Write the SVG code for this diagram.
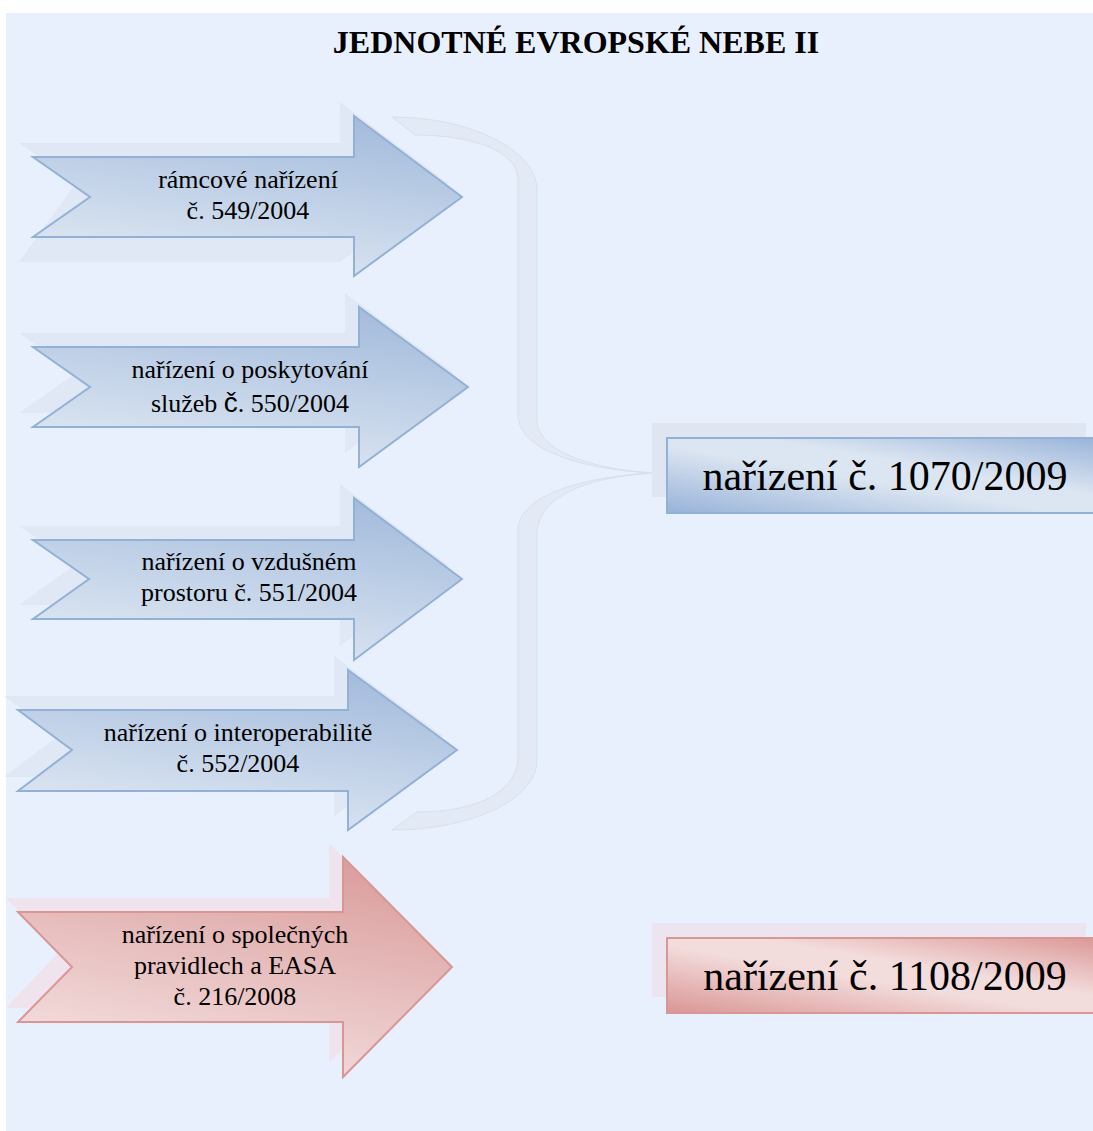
<svg xmlns="http://www.w3.org/2000/svg" width="1093" height="1131" viewBox="0 0 1093 1131">
<defs>
<linearGradient id="gBlue" x1="0.75" y1="0" x2="0.35" y2="1">
<stop offset="0" stop-color="#A3BBDC"/>
<stop offset="1" stop-color="#DFE8F3"/>
</linearGradient>
<linearGradient id="gRed" x1="0.75" y1="0" x2="0.35" y2="1">
<stop offset="0" stop-color="#DA9D9C"/>
<stop offset="1" stop-color="#F4E0E0"/>
</linearGradient>
<linearGradient id="gBoxBlue" x1="0" y1="1" x2="1" y2="0">
<stop offset="0" stop-color="#97B2D8"/>
<stop offset="0.45" stop-color="#DCE6F2"/>
<stop offset="0.6" stop-color="#DCE6F2"/>
<stop offset="1" stop-color="#97B2D8"/>
</linearGradient>
<linearGradient id="gBoxRed" x1="0" y1="1" x2="1" y2="0">
<stop offset="0" stop-color="#D99694"/>
<stop offset="0.45" stop-color="#F3DCDC"/>
<stop offset="0.6" stop-color="#F3DCDC"/>
<stop offset="1" stop-color="#D99694"/>
</linearGradient>
</defs>
<style>
.arrB{fill:url(#gBlue);stroke:#93B0D6;stroke-width:2;stroke-linejoin:miter}
.arrR{fill:url(#gRed);stroke:#D99694;stroke-width:2}
.shB{fill:#DDE5F1;opacity:0.75}
.shR{fill:#F0E1EA;opacity:0.85}
.lbl{font-family:"Liberation Serif","Times New Roman",serif;font-size:26px;fill:#000;text-anchor:middle}
.big{font-family:"Liberation Serif","Times New Roman",serif;font-size:42px;fill:#000;text-anchor:middle}
.title{font-family:"Liberation Serif","Times New Roman",serif;font-size:32px;font-weight:bold;fill:#000;text-anchor:middle}
.brace{fill:#E3EAF6;stroke:#D6E0EE;stroke-width:1}
</style>
<rect x="6" y="13" width="1087" height="1118" fill="#E9F0FD"/>
<text class="title" x="576" y="53">JEDNOTNÉ EVROPSKÉ NEBE II</text>

<g id="connectors">
<path class="brace" d="M392,117 C470,117 537,150 537,190 L537,420 C537,450 590,470 658,473 C590,476 537,495 537,535 L537,760 C537,800 470,830 392,830 L417,812 C480,812 518,790 518,757 L518,530 C518,500 570,478 650,473 C570,468 518,446 518,415 L518,180 C518,150 470,135 415,135 Z"/>
</g>

<g id="arrow1">
<polygon class="shB" points="19,143 340,143 340,102 448,183 340,262 19,262 76,183"/>
<polygon class="arrB" points="33,157 354,157 354,116 462,197 354,276 354,237 33,237 90,197"/>
<text class="lbl" x="248" y="188">rámcové nařízení</text>
<text class="lbl" x="248" y="219">č. 549/2004</text>
</g>

<g id="arrow2">
<polygon class="shB" points="19,333 345,333 345,293 454,373 345,453 345,413 19,413 76,373"/>
<polygon class="arrB" points="33,347 359,347 359,307 468,387 359,467 359,427 33,427 90,387"/>
<text class="lbl" x="250" y="378">nařízení o poskytování</text>
<text class="lbl" x="250" y="412">služeb <tspan font-family="Liberation Sans, Arial, sans-serif" font-size="28px">č</tspan>. 550/2004</text>
</g>

<g id="arrow3">
<polygon class="shB" points="19,526 340,526 340,484 448,565 340,646 340,605 19,605 75,565"/>
<polygon class="arrB" points="33,540 354,540 354,498 462,579 354,660 354,619 33,619 89,579"/>
<text class="lbl" x="249" y="570">nařízení o vzdušném</text>
<text class="lbl" x="249" y="601">prostoru č. 551/2004</text>
</g>

<g id="arrow4">
<polygon class="shB" points="4,696 334,696 334,656 443,736 334,816 334,777 4,777 58,736"/>
<polygon class="arrB" points="18,710 348,710 348,670 457,750 348,830 348,791 18,791 72,750"/>
<text class="lbl" x="238" y="741">nařízení o interoperabilitě</text>
<text class="lbl" x="238" y="772">č. 552/2004</text>
</g>

<g id="arrow5">
<polygon class="shR" points="6,898 329,898 329,843 438,953 329,1063 329,1008 6,1008 58,953"/>
<polygon class="arrR" points="18,912 343,912 343,857 452,967 343,1077 343,1022 18,1022 72,967"/>
<text class="lbl" x="235" y="943">nařízení o společných</text>
<text class="lbl" x="235" y="974">pravidlech a EASA</text>
<text class="lbl" x="235" y="1005">č. 216/2008</text>
</g>

<g id="box1">
<rect x="652" y="423" width="434" height="74" fill="#DFE6F2"/>
<rect x="667" y="438" width="440" height="75" fill="url(#gBoxBlue)" stroke="#93B0D6" stroke-width="2"/>
<text class="big" x="885" y="490">nařízení č. 1070/2009</text>
</g>

<g id="box2">
<rect x="652" y="923" width="434" height="74" fill="#ECE4EE"/>
<rect x="667" y="938" width="440" height="75" fill="url(#gBoxRed)" stroke="#D99694" stroke-width="2"/>
<text class="big" x="885" y="990">nařízení č. 1108/2009</text>
</g>
</svg>
